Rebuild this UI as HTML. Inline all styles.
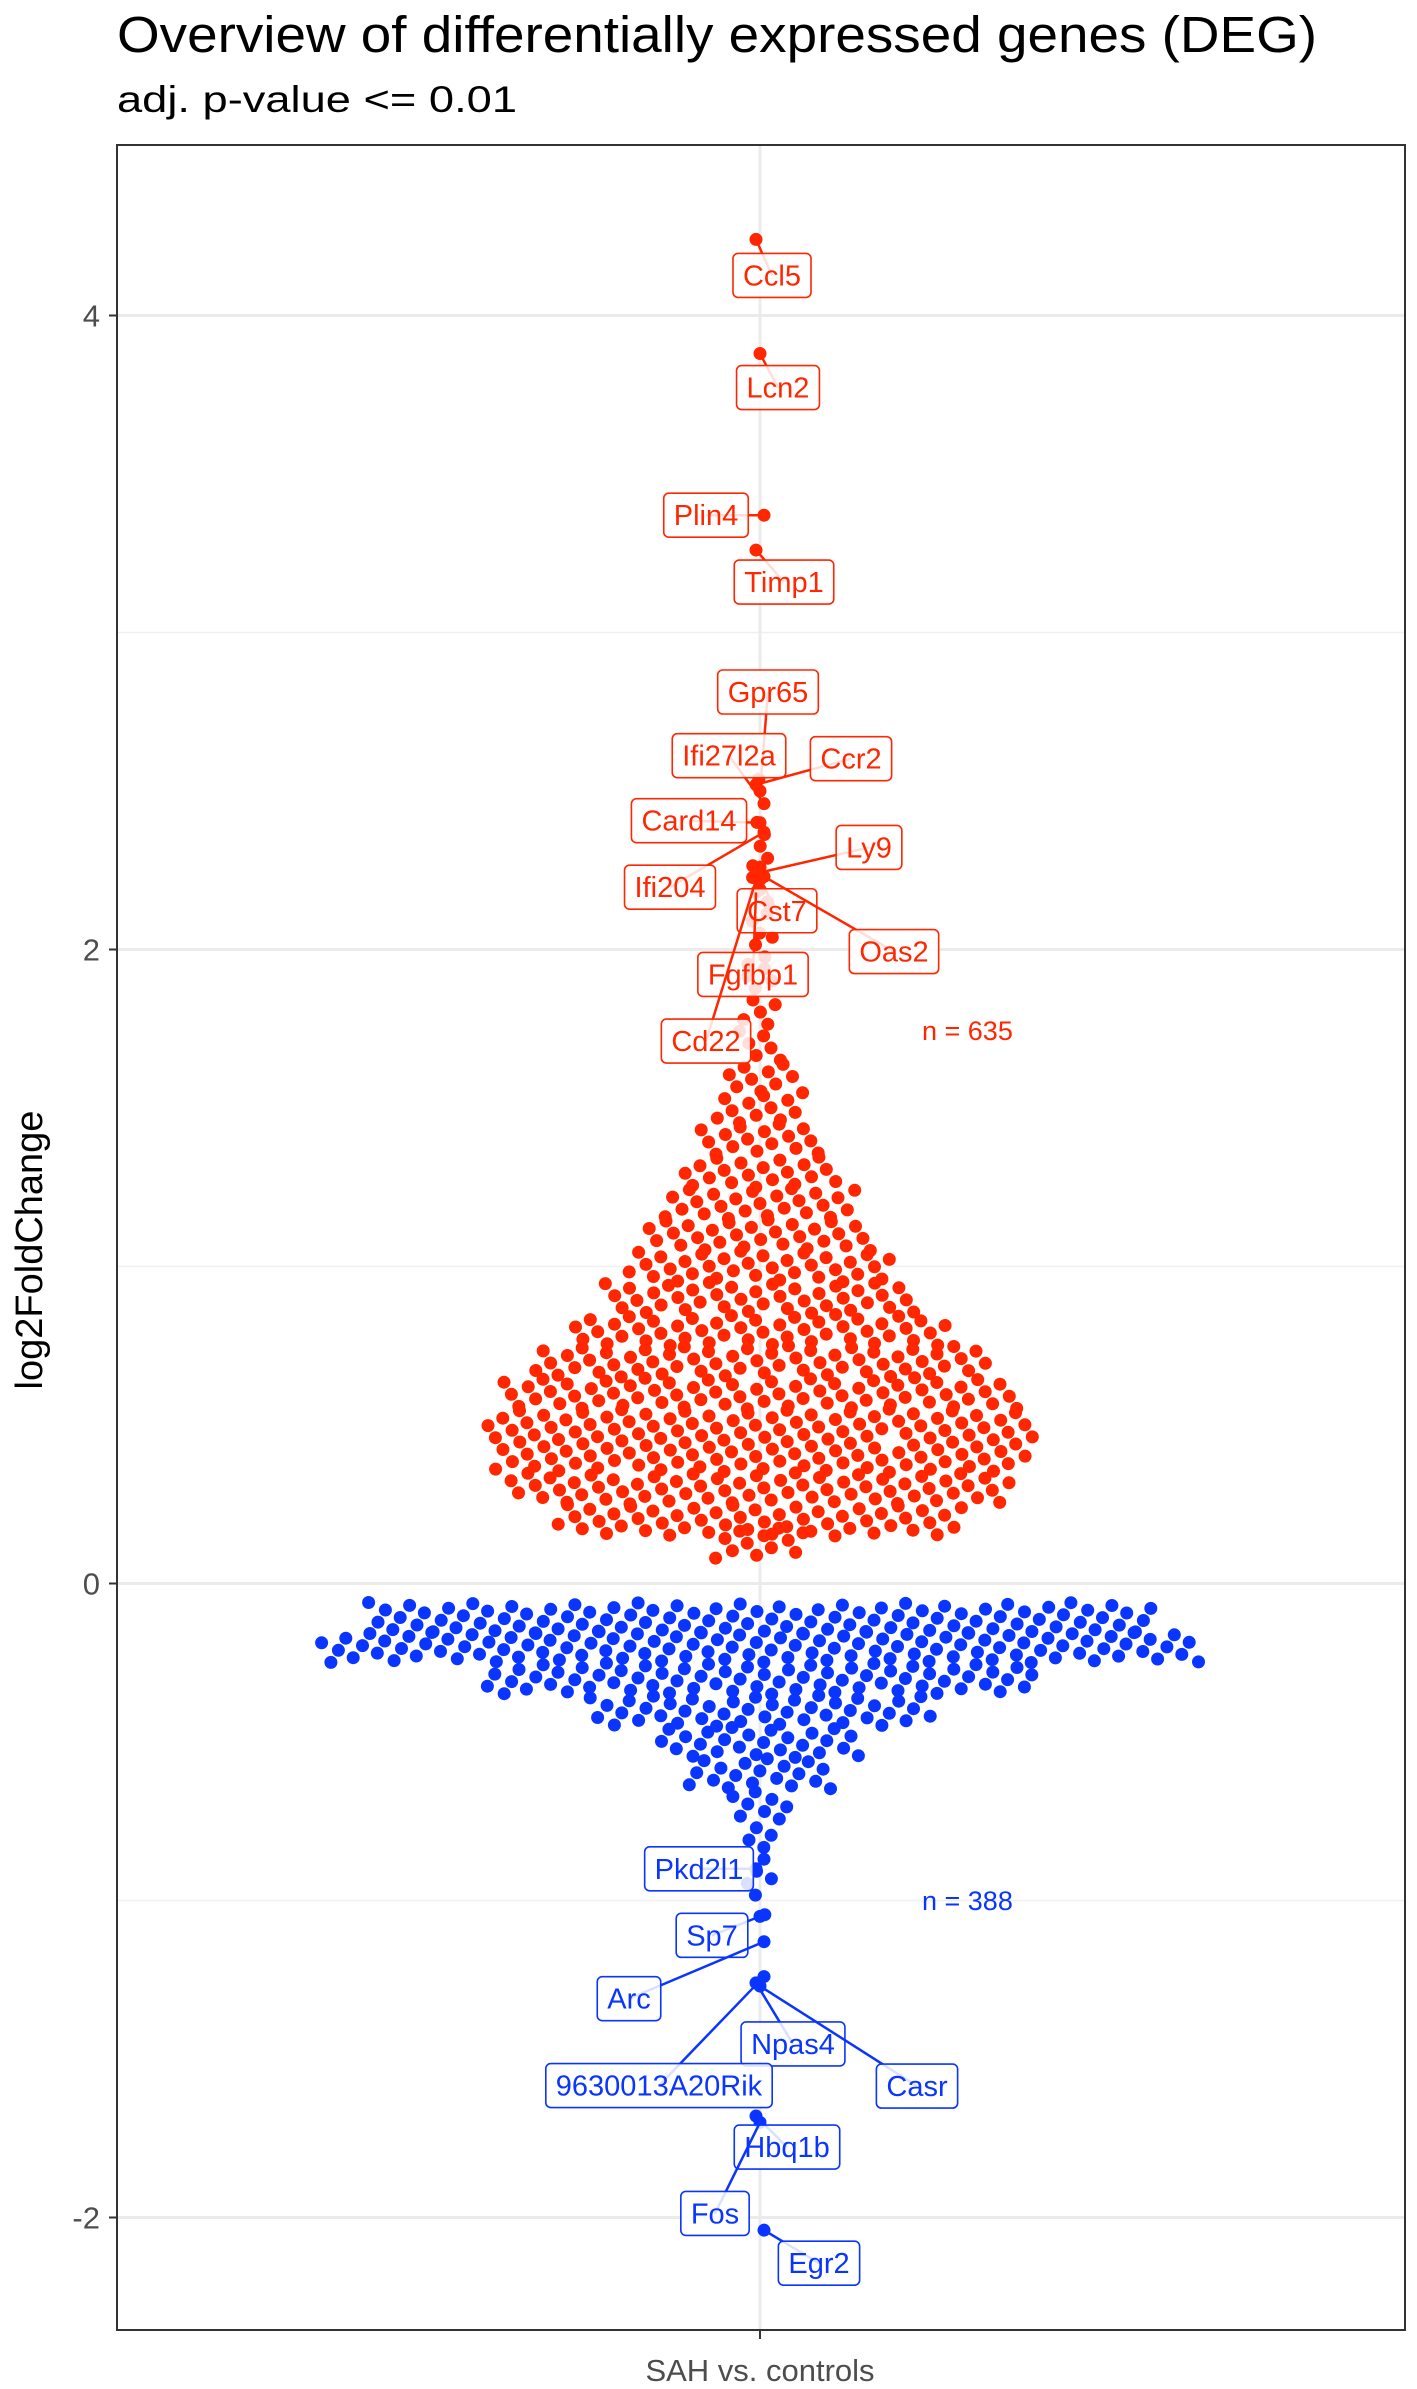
<!DOCTYPE html>
<html><head><meta charset="utf-8">
<style>
html,body{margin:0;padding:0;background:#fff;}
svg{display:block;font-family:"Liberation Sans",Arial,sans-serif;}
</style></head>
<body>
<svg id="chart" width="1417" height="2389" viewBox="0 0 1417 2389" xmlns="http://www.w3.org/2000/svg">
  <text x="117" y="52" font-size="51" fill="#000" textLength="1200" lengthAdjust="spacingAndGlyphs">Overview of differentially expressed genes (DEG)</text>
  <text x="117" y="112" font-size="37" fill="#000" textLength="400" lengthAdjust="spacingAndGlyphs">adj. p-value &lt;= 0.01</text>
  <g id="grid"></g>
  <g id="points"></g>
  <g id="labels"></g>
  <rect x="117" y="145" width="1288" height="2185" fill="none" stroke="#333" stroke-width="2"/>
  <g id="axes"></g>
  <text transform="translate(42,1250) rotate(-90)" text-anchor="middle" font-size="38" fill="#000">log2FoldChange</text>
  <text x="760" y="2381" text-anchor="middle" font-size="31" fill="#4d4d4d">SAH vs. controls</text>
  <text x="922" y="1040" font-size="27" fill="#ff2600">n = 635</text>
  <text x="922" y="1910" font-size="27" fill="#0a35ff">n = 388</text>
</svg>
<script>
// ---- data ----
const yTicks = [-2, 0, 2, 4];
const yMinor = [-1, 1, 3];
// counts of up-regulated genes per 0.1 log2FC bin (lower edges)
const upBinStarts = [0.08,0.15,0.25,0.35,0.45,0.55,0.65,0.75,0.85,0.95,1.05,1.15,1.25,1.35,1.45,1.55,1.65,1.75,1.85,1.95,2.05,2.15,2.25,2.35,2.45];
const upCounts    = [12,52,64,68,70,66,58,48,40,34,29,25,20,16,12,9,6,5,4,4,3,3,3,2,1];
// counts of down-regulated genes per 0.1 bin (upper edges)
const downBinStarts = [-0.06,-0.15,-0.25,-0.35,-0.45,-0.55,-0.65,-0.75,-0.85,-0.95];
const downCounts    = [100,112,70,44,26,19,8,4,4,2];
// labelled genes
const upGenes  = ["Ccl5","Lcn2","Plin4","Timp1","Gpr65","Ifi27l2a","Ccr2","Card14","Ifi204","Ly9","Cst7","Oas2","Fgfbp1","Cd22"];
const upVals   = [4.24,3.88,3.37,3.26,2.50,2.46,2.52,2.40,2.37,2.24,2.22,2.23,2.18,2.26];
const downGenes= ["Pkd2l1","Sp7","Arc","Npas4","Casr","9630013A20Rik","Hbq1b","Fos","Egr2"];
const downVals = [-0.90,-1.05,-1.13,-1.26,-1.27,-1.24,-1.68,-1.70,-2.04];

// ---- layout ----
const NS = "http://www.w3.org/2000/svg";
const X0 = 760, Y0 = 1583.5, PPU = 317;
const yS = v => Y0 - v * PPU;
const RED = "#ff2600", BLUE = "#0a35ff";
function mk(tag, attrs, parent){const e=document.createElementNS(NS,tag);for(const k in attrs)e.setAttribute(k,attrs[k]);parent.appendChild(e);return e;}
const grid=document.getElementById('grid'), axes=document.getElementById('axes');
yMinor.forEach(v=>{
  const l=mk('line',{x1:117,x2:1405,y1:yS(v),y2:yS(v),stroke:'#f0f0f0','stroke-width':1.5},grid);
  
  
});
yTicks.forEach(v=>{
  const l=mk('line',{x1:117,x2:1405,y1:yS(v),y2:yS(v),stroke:'#ebebeb','stroke-width':3},grid);
  
  
  const t=mk('line',{x1:109,x2:117,y1:yS(v),y2:yS(v),stroke:'#333','stroke-width':2},axes);
  
  
  const tx=mk('text',{x:100,y:yS(v)+11,'text-anchor':'end','font-size':31,fill:'#4d4d4d'},axes);
  tx.textContent=String(v);
  
  
});
const vg=mk('line',{x1:X0,x2:X0,y1:145,y2:2330,stroke:'#ebebeb','stroke-width':3},grid);


const xt=mk('line',{x1:X0,x2:X0,y1:2330,y2:2339,stroke:'#333','stroke-width':2},axes);



const pts=document.getElementById('points');
const AREA=250, BH=0.1*PPU;
function drawBins(starts, counts, dir, color){
  starts.forEach((s,bi)=>{
    const n=counts[bi];
    const hw=Math.max(6, n*AREA/(2*BH));
    for(let i=0;i<n;i++){
      const fy=((i*0.618034+bi*0.37)%1);
      const v=s+dir*0.1*fy;
      const fx = n===1?0:((i+0.5)/n*2-1);
      const jitter = ((i*0.7548777+bi*0.13)%1-0.5)*0.25*(2*hw/Math.max(n,1));
      const x=X0+fx*hw+jitter;
      const c=mk('circle',{cx:x.toFixed(1),cy:yS(v).toFixed(1),r:6.5,fill:color},pts);
      
      
    }
  });
}
drawBins(upBinStarts, upCounts, 1, RED);
drawBins(downBinStarts, downCounts, -1, BLUE);

// labels: offsets (px) of label centre from point, layout only
const upOff = [[16,36],[18,34],[-58,0],[28,32],[8,-99],[-35,-48],[95,-26],[-71,-2],[-94,55],[113,-26],[17,31],[130,75],[-3,82],[-54,174]];
const downOff= [[-57,0],[-48,19],[-135,57],[37,61],[157,100],[-105,109],[31,31],[-45,91],[55,33]];
const lab=document.getElementById('labels');
function drawLabels(genes, vals, offs, color){
  genes.forEach((g,i)=>{
    const px=X0+(i%3-1)*4, py=yS(vals[i]);
    const lx=px+offs[i][0], ly=py+offs[i][1];
    const seg=mk('line',{x1:px,y1:py,x2:lx,y2:ly,stroke:color,'stroke-width':2.5},lab);
    
    
    const pt=mk('circle',{cx:px,cy:py,r:6.5,fill:color},pts);
    
    
    const gg=mk('g',{},lab);
    
    
    const rect=mk('rect',{x:0,y:ly-22,width:10,height:44,rx:5,fill:'#fff','fill-opacity':0.85,stroke:color,'stroke-width':1.6},gg);
    const t=mk('text',{x:lx,y:ly+10,'text-anchor':'middle','font-size':29,fill:color},gg);
    t.textContent=g;
    const w=t.getComputedTextLength()+20;
    rect.setAttribute('x',lx-w/2);rect.setAttribute('width',w);
  });
}
drawLabels(upGenes, upVals, upOff, RED);
drawLabels(downGenes, downVals, downOff, BLUE);
</script>
</body></html>
